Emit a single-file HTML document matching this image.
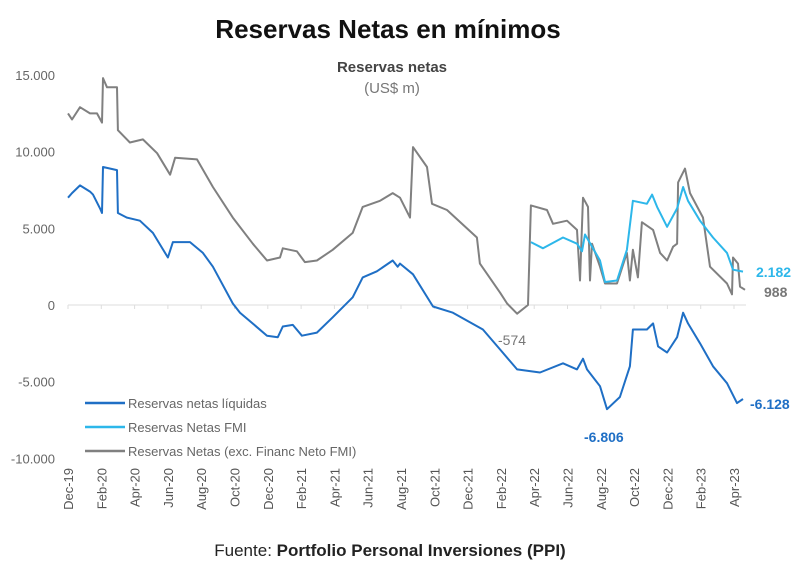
<!DOCTYPE html>
<html><head><meta charset="utf-8"><style>
body{margin:0;background:#fff;width:800px;height:561px;overflow:hidden;font-family:"Liberation Sans",sans-serif}
svg text{font-family:"Liberation Sans",sans-serif}
</style></head><body>
<svg id="chart" width="800" height="561" viewBox="0 0 800 561">
<text x="388" y="38" text-anchor="middle" font-size="26" font-weight="bold" fill="#111">Reservas Netas en mínimos</text>
<text x="392" y="72" text-anchor="middle" font-size="15" font-weight="bold" fill="#444">Reservas netas</text>
<text x="392" y="93" text-anchor="middle" font-size="15" fill="#777">(US$ m)</text>
<g id="yaxis"></g>
<g id="xaxis"></g>
<g id="series"></g>
<g font-size="13" fill="#666">
<g><line x1="85" y1="403" x2="125" y2="403" stroke="#1f6fc5" stroke-width="2.5"/><text x="128" y="408">Reservas netas líquidas</text></g>
<g><line x1="85" y1="427" x2="125" y2="427" stroke="#2db7ea" stroke-width="2.5"/><text x="128" y="432">Reservas Netas FMI</text></g>
<g><line x1="85" y1="451" x2="125" y2="451" stroke="#808080" stroke-width="2.5"/><text x="128" y="456">Reservas Netas (exc. Financ Neto FMI)</text></g>
</g>
<g font-size="14" font-weight="bold">
<text x="756" y="277" fill="#2db7ea">2.182</text>
<text x="764" y="297" fill="#777">988</text>
<text x="750" y="409" fill="#1f6fc5">-6.128</text>
<text x="584" y="442" fill="#1f6fc5">-6.806</text>
<text x="498" y="345" fill="#777" font-weight="normal">-574</text>
</g>
<text x="390" y="556" text-anchor="middle" font-size="17" fill="#222">Fuente: <tspan font-weight="bold">Portfolio Personal Inversiones (PPI)</tspan></text>
</svg>
<script>
const xTickLabels=["Dec-19","Feb-20","Apr-20","Jun-20","Aug-20","Oct-20","Dec-20","Feb-21","Apr-21","Jun-21","Aug-21","Oct-21","Dec-21","Feb-22","Apr-22","Jun-22","Aug-22","Oct-22","Dec-22","Feb-23","Apr-23"];
const yTicks=[15000,10000,5000,0,-5000,-10000];
const yTickLabels=["15.000","10.000","5.000","0","-5.000","-10.000"];
const liqMonths=[0,0.24,0.72,1.32,1.5,1.92,2.04,2.1,2.94,3.0,3.54,4.32,5.1,6.0,6.3,7.33,8.1,8.7,9.9,10.33,11.95,12.6,12.9,13.5,14.05,14.95,15.9,17.1,17.7,18.55,19.5,19.8,19.94,20.72,21.92,23.12,24.92,25.95,26.97,28.35,29.73,30.57,30.93,31.17,31.95,32.37,33.15,33.75,33.93,34.77,35.14,35.44,35.98,36.58,36.94,37.24,37.96,38.74,39.58,40.18,40.54];
const liqValues=[7.0,7.3,7.8,7.4,7.2,6.3,6.0,9.0,8.8,6.0,5.7,5.5,4.7,3.1,4.1,4.1,3.4,2.5,0.1,-0.5,-2.0,-2.1,-1.4,-1.3,-2.0,-1.8,-0.8,0.5,1.8,2.2,2.9,2.5,2.7,2.0,-0.1,-0.5,-1.6,-2.9,-4.2,-4.4,-3.8,-4.2,-3.5,-4.2,-5.3,-6.8,-6.0,-4.0,-1.6,-1.6,-1.2,-2.7,-3.1,-2.1,-0.5,-1.2,-2.5,-4.0,-5.1,-6.4,-6.13];
const excMonths=[0,0.24,0.72,1.32,1.74,2.04,2.1,2.34,2.94,3.0,3.72,4.5,5.35,6.13,6.43,7.75,8.7,9.9,11.1,11.95,12.73,12.9,13.75,14.23,14.95,15.9,17.1,17.7,18.74,19.5,19.94,20.54,20.72,21.56,21.86,22.76,24.56,24.74,25.95,26.37,26.97,27.63,27.8,28.77,29.13,29.97,30.57,30.75,30.93,31.23,31.35,31.47,31.95,32.25,32.97,33.57,33.75,33.93,34.23,34.47,35.14,35.56,35.98,36.34,36.58,36.64,37.06,37.36,38.14,38.56,39.58,39.88,39.94,40.24,40.36,40.66];
const excValues=[12.5,12.1,12.9,12.5,12.5,11.9,14.8,14.2,14.2,11.4,10.6,10.8,9.9,8.5,9.6,9.5,7.7,5.7,4.0,2.9,3.1,3.7,3.5,2.8,2.9,3.6,4.7,6.4,6.8,7.3,7.0,5.7,10.3,9.0,6.6,6.2,4.4,2.7,0.8,0.1,-0.57,0,6.5,6.2,5.3,5.5,4.9,1.6,7.0,6.4,1.6,4.0,2.5,1.4,1.4,3.4,1.6,3.6,1.8,5.4,4.9,3.4,2.9,3.8,4.0,8.0,8.9,7.3,5.7,2.5,1.4,0.7,3.1,2.7,1.2,0.99];
const fmiMonths=[27.8,28.53,29.73,30.57,30.87,31.05,31.95,32.25,32.97,33.57,33.93,34.77,35.08,35.38,35.98,36.58,36.94,37.24,37.96,38.74,39.58,39.94,40.54];
const fmiValues=[4.1,3.7,4.4,4.0,3.5,4.6,2.9,1.5,1.6,3.6,6.8,6.6,7.2,6.4,5.1,6.3,7.7,6.8,5.5,4.4,3.4,2.3,2.18];
const NS="http://www.w3.org/2000/svg";
const xS=m=>68+m*16.65;
const yS=v=>305-v*15.33/1000;
const yA=document.getElementById('yaxis'),xA=document.getElementById('xaxis'),sg=document.getElementById('series');
yTicks.forEach((t,i)=>{const e=document.createElementNS(NS,'text');


e.setAttribute('x',55);e.setAttribute('y',yS(t)+5);e.setAttribute('text-anchor','end');e.setAttribute('font-size','13');e.setAttribute('fill','#666');e.textContent=yTickLabels[i];yA.appendChild(e);});
const zl=document.createElementNS(NS,'line');


zl.setAttribute('x1',68);zl.setAttribute('x2',746);zl.setAttribute('y1',yS(0));zl.setAttribute('y2',yS(0));zl.setAttribute('stroke','#ddd');zl.setAttribute('stroke-width','1');xA.appendChild(zl);
xTickLabels.forEach((l,i)=>{const x=xS(i*2);
const tk=document.createElementNS(NS,'line');


tk.setAttribute('x1',x);tk.setAttribute('x2',x);tk.setAttribute('y1',yS(0));tk.setAttribute('y2',yS(0)+4);tk.setAttribute('stroke','#ddd');xA.appendChild(tk);
const e=document.createElementNS(NS,'text');


e.setAttribute('transform','translate('+(x+5)+',468) rotate(-90)');e.setAttribute('text-anchor','end');e.setAttribute('font-size','13');e.setAttribute('fill','#555');e.textContent=l;xA.appendChild(e);});
function line(ms,vs,color,name){const p=document.createElementNS(NS,'path');


p.setAttribute('d',ms.map((m,i)=>(i?'L':'M')+xS(m).toFixed(1)+','+yS(vs[i]*1000).toFixed(1)).join(''));
p.setAttribute('fill','none');p.setAttribute('stroke',color);p.setAttribute('stroke-width','2');p.setAttribute('stroke-linejoin','round');sg.appendChild(p);}
line(excMonths,excValues,'#808080','series-exc-fmi');
line(fmiMonths,fmiValues,'#2db7ea','series-fmi');
line(liqMonths,liqValues,'#1f6fc5','series-liquidas');
</script>
</body></html>
